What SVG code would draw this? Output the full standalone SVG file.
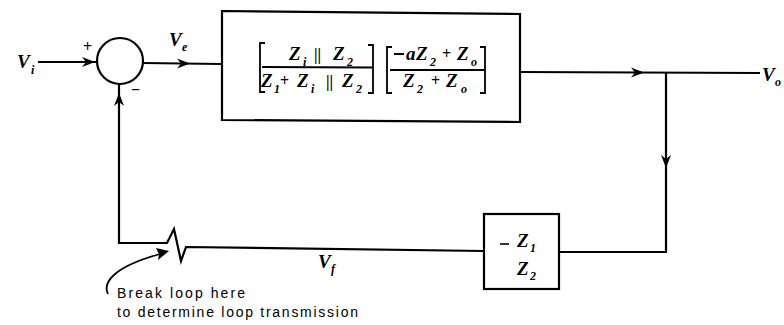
<svg xmlns="http://www.w3.org/2000/svg" xmlns:xlink="http://www.w3.org/1999/xlink" width="784" height="325" viewBox="0 0 784 325">
  <style>
    .ln { fill: none; stroke: #000; stroke-width: 2.2; stroke-linejoin: miter; }
    .thin { fill: none; stroke: #000; stroke-width: 1.8; }
    .box { fill: #fff; stroke: #000; stroke-width: 2.2; }
    .m { font-family: "Liberation Serif", "DejaVu Serif", serif; font-weight: bold; font-style: italic; font-size: 19px; fill: #000; }
    .sub { font-family: "Liberation Serif", "DejaVu Serif", serif; font-weight: bold; font-style: italic; font-size: 12px; fill: #000; }
    .op { font-family: "Liberation Serif", "DejaVu Serif", serif; font-weight: bold; font-size: 16px; fill: #000; }
    .note { font-family: "Liberation Sans", Arial, sans-serif; font-size: 14px; fill: #000; }
  </style>
  <defs>
    <path id="ah" d="M0,0 L-13,-5 L-9,0 L-13,5 Z" fill="#000"/>
  </defs>
  <rect width="784" height="325" fill="#fff"/>

  <g id="connectors">
    <!-- input -->
    <line class="ln" x1="38" y1="62" x2="97" y2="62"/>
    <use xlink:href="#ah" transform="translate(95,62)"/>
    <!-- sum to block -->
    <line class="ln" x1="143" y1="63" x2="221" y2="64"/>
    <use xlink:href="#ah" transform="translate(190,63.5)"/>
    <!-- output -->
    <line class="ln" x1="520" y1="72" x2="760" y2="73"/>
    <use xlink:href="#ah" transform="translate(644,72.5)"/>
    <!-- down to feedback -->
    <polyline class="ln" points="666,72 666,252 559,252"/>
    <use xlink:href="#ah" transform="translate(666,168) rotate(90)"/>
    <!-- feedback path with break -->
    <polyline class="ln" points="484,251 186,247 181,261 174,229 167,243 119,243 119,84"/>
    <use xlink:href="#ah" transform="translate(119,93) rotate(-90)"/>
    <!-- note arrow -->
    <path class="thin" d="M108,294 C103,284 110,268 160,254"/>
    <path d="M169,251 L156,248 L159,254 L158,260 Z" fill="#000"/>
  </g>

  <g id="vi-label">
    <text class="m" x="17" y="68">V</text>
    <text class="sub" x="31" y="74">i</text>
  </g>

  <g id="sum">
    <circle class="box" cx="120" cy="61" r="23"/>
    <text class="op" x="83" y="52" font-size="15">+</text>
    <text class="op" x="131" y="95" font-size="17">−</text>
  </g>

  <g id="ve-label">
    <text class="m" x="169" y="46">V</text>
    <text class="sub" x="182" y="51">e</text>
  </g>

  <g id="forward-block">
    <path class="box" d="M222,11 L520,14 L520,122 L222,120 Z"/>
    <!-- first bracket -->
    <path class="thin" d="M265,43 L260,43 L260,92 L265,92"/>
    <path class="thin" d="M368,45 L373,45 L373,93 L368,93"/>
    <text class="m" x="289" y="60">Z</text>
    <text class="sub" x="303" y="66">i</text>
    <text class="op" x="314" y="60" font-weight="normal">||</text>
    <text class="m" x="333" y="60">Z</text>
    <text class="sub" x="347" y="66">2</text>
    <line class="thin" x1="262" y1="67" x2="372" y2="67.5"/>
    <text class="m" x="261" y="87">Z</text>
    <text class="sub" x="274" y="93">1</text>
    <text class="op" x="280" y="86">+</text>
    <text class="m" x="297" y="87">Z</text>
    <text class="sub" x="311" y="93">i</text>
    <text class="op" x="326" y="87" font-weight="normal">||</text>
    <text class="m" x="342" y="87">Z</text>
    <text class="sub" x="356" y="93">2</text>
    <!-- second bracket -->
    <path class="thin" d="M392,47 L387,47 L387,93 L392,93"/>
    <path class="thin" d="M480,47 L485,47 L485,93 L480,93"/>
    <line x1="394" y1="54" x2="404" y2="54" stroke="#000" stroke-width="2"/>
    <text class="m" x="406" y="60">a</text>
    <text class="m" x="416" y="60">Z</text>
    <text class="sub" x="430" y="66">2</text>
    <text class="op" x="442" y="59">+</text>
    <text class="m" x="457" y="60">Z</text>
    <text class="sub" x="471" y="66">o</text>
    <line class="thin" x1="390" y1="70" x2="484" y2="70"/>
    <text class="m" x="403" y="87">Z</text>
    <text class="sub" x="417" y="93">2</text>
    <text class="op" x="431" y="86">+</text>
    <text class="m" x="446" y="87">Z</text>
    <text class="sub" x="461" y="93">o</text>
  </g>

  <g id="vo-label">
    <text class="m" x="762" y="81">V</text>
    <text class="sub" x="775" y="86">o</text>
  </g>

  <g id="feedback-block">
    <rect class="box" x="484" y="214" width="75" height="75"/>
    <line x1="500" y1="244" x2="509" y2="244" stroke="#000" stroke-width="1.6"/>
    <text class="m" x="517" y="247" font-weight="normal">Z</text>
    <text class="sub" x="530" y="252" font-weight="normal">1</text>
    <text class="m" x="517" y="275" font-weight="normal">Z</text>
    <text class="sub" x="530" y="280" font-weight="normal">2</text>
  </g>

  <g id="vf-label">
    <text class="m" x="318" y="268">V</text>
    <text class="sub" x="331" y="273">f</text>
  </g>

  <g id="note">
    <text class="note" x="117" y="298" textLength="128" lengthAdjust="spacing">Break loop here</text>
    <text class="note" x="117" y="317" textLength="241" lengthAdjust="spacing">to determine loop transmission</text>
  </g>
</svg>
